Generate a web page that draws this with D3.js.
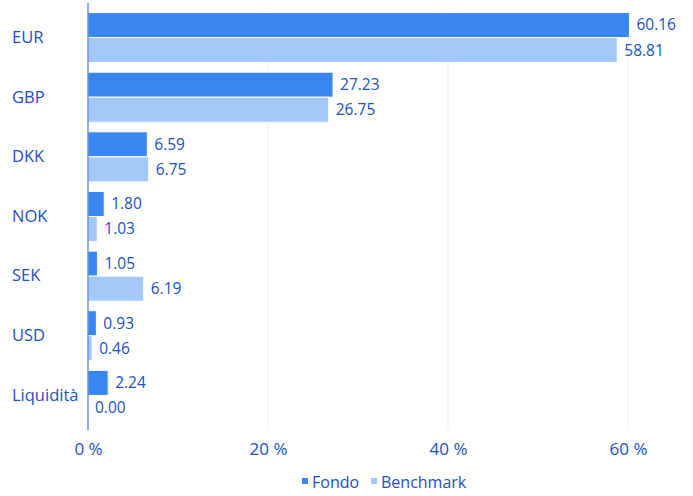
<!DOCTYPE html>
<html>
<head>
<meta charset="utf-8">
<script src="https://cdn.jsdelivr.net/npm/d3@7"></script>
<style>
    body { margin: 0; background: #fff; }
    svg { font-family: "Open Sans", sans-serif; }
</style>
</head>
<body>
<svg id="chart"></svg>
<script>
const categories = ["EUR", "GBP", "DKK", "NOK", "SEK", "USD", "Liquidità"];
const fondo = [60.16, 27.23, 6.59, 1.80, 1.05, 0.93, 2.24];
const benchmark = [58.81, 26.75, 6.75, 1.03, 6.19, 0.46, 0.00];
const seriesNames = ["Fondo", "Benchmark"];
const xTicks = [0, 20, 40, 60];

const width = 693, height = 496;
const margin = { top: 3, right: 65, bottom: 66, left: 88 };
const colors = ["#3a86f0", "#a3c9fb"];
const textColor = "#2150bf";

let svg = d3.select("#chart")
    .attr("width", width)
    .attr("height", height);

let x = d3.scaleLinear()
    .domain([0, 60])
    .range([margin.left, margin.left + 540]);

let y = d3.scaleBand()
    .domain(categories)
    .range([margin.top, height - margin.bottom])
    .paddingInner(0.16)
    .paddingOuter(0.16);

let ySub = d3.scaleBand()
    .domain(seriesNames)
    .range([0, y.bandwidth()]);

// Grid lines
svg.append("g")
    .selectAll("line")
    .data(xTicks.slice(1))
    .join("line")
    .attr("x1", d => x(d))
    .attr("x2", d => x(d))
    .attr("y1", margin.top + 7)
    .attr("y2", height - margin.bottom)
    .attr("stroke", "#e6effc")
    .attr("stroke-width", 1);

// Bars
let rows = categories.map((c, i) => ({ cat: c, values: [fondo[i], benchmark[i]] }));

let groups = svg.append("g")
    .selectAll("g")
    .data(rows)
    .join("g")
    .attr("transform", d => `translate(0,${y(d.cat)})`);

groups.selectAll("rect")
    .data(d => d.values.map((v, i) => ({ key: seriesNames[i], value: v, i: i })))
    .join("rect")
    .attr("x", x(0))
    .attr("y", d => ySub(d.key))
    .attr("width", d => x(d.value) - x(0))
    .attr("height", ySub.bandwidth())
    .attr("fill", d => colors[d.i])
    .attr("stroke", "#fff")
    .attr("stroke-width", 1);

groups.selectAll("text")
    .data(d => d.values.map((v, i) => ({ key: seriesNames[i], value: v })))
    .join("text")
    .attr("x", d => x(d.value) + 7)
    .attr("y", d => ySub(d.key) + ySub.bandwidth() / 2)
    .attr("dy", "0.35em")
    .attr("fill", textColor)
    .style("font-size", "15.5px")
    .text(d => d.value.toFixed(2));

// Y axis
let yAxis = svg.append("g")
    .attr("transform", `translate(${margin.left},0)`)
    .call(d3.axisLeft(y).tickSize(0).tickPadding(12));
yAxis.select(".domain")
    .attr("stroke", "#2a5cc8")
    .attr("d", `M0,${margin.top}V${height - margin.bottom}`);
yAxis.selectAll("text")
    .attr("fill", textColor)
    .attr("text-anchor", "start")
    .attr("x", -margin.left + 12)
    .style("font-size", "16.5px")
    .style("font-family", "Open Sans, sans-serif");

// X axis
let xAxis = svg.append("g")
    .attr("transform", `translate(0,${height - margin.bottom})`)
    .call(d3.axisBottom(x).tickValues(xTicks).tickSize(0).tickPadding(13).tickFormat(d => d + " %"));
xAxis.select(".domain").remove();
xAxis.selectAll("text")
    .attr("fill", textColor)
    .style("font-size", "17px")
    .style("font-family", "Open Sans, sans-serif");

// Legend
let legend = svg.append("g")
    .attr("transform", `translate(302,482)`);
let legendX = [0, 69];
legend.selectAll("rect")
    .data(seriesNames)
    .join("rect")
    .attr("x", (d, i) => legendX[i])
    .attr("y", -4)
    .attr("width", 6)
    .attr("height", 6)
    .attr("fill", (d, i) => colors[i]);
legend.selectAll("text")
    .data(seriesNames)
    .join("text")
    .attr("x", (d, i) => legendX[i] + 10)
    .attr("y", 0)
    .attr("dy", "0.35em")
    .attr("fill", textColor)
    .style("font-size", "16px")
    .text(d => d);
</script>
</body>
</html>
